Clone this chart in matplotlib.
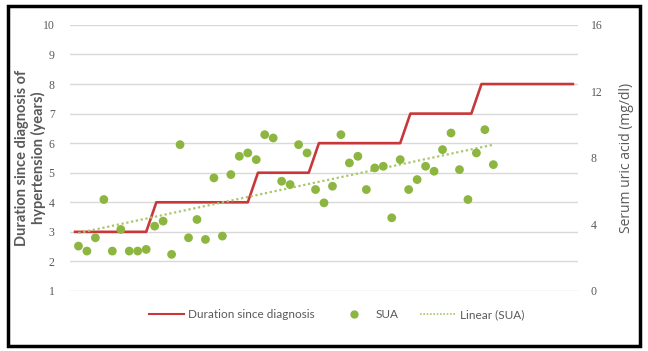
import numpy as np
import matplotlib
matplotlib.use("Agg")
import matplotlib.pyplot as plt
from matplotlib.patches import Rectangle
from matplotlib.lines import Line2D

# duration since diagnosis (years), one value per patient category
duration = [3] * 8 + [4] * 10 + [5] * 6 + [6] * 9 + [7] * 7 + [8] * 10

# serum uric acid (mg/dl), patients 1..50
sua = [2.7, 2.4, 3.2, 5.5, 2.4, 3.7, 2.4, 2.4, 2.5, 3.9,
       4.2, 2.2, 8.8, 3.2, 4.3, 3.1, 6.8, 3.3, 7.0, 8.1,
       8.3, 7.9, 9.4, 9.2, 6.6, 6.4, 8.8, 8.3, 6.1, 5.3,
       6.3, 9.4, 7.7, 8.1, 6.1, 7.4, 7.5, 4.4, 7.9, 6.1,
       6.7, 7.5, 7.2, 8.5, 9.5, 7.3, 5.5, 8.3, 9.7, 7.6]

left_ticks = list(range(1, 11))
right_ticks = [0, 4, 8, 12, 16]

RED = "#C8383B"
GREEN = "#8CB640"
TEXT = "#595959"


def main():
    fig = plt.figure(figsize=(6.48, 3.51), dpi=100)
    ax = fig.add_axes([0.108, 0.171, 0.784, 0.758])
    ax2 = ax.twinx()

    # line categories spread evenly over the same width as scatter x 0..60
    n = len(duration)
    x_line = (np.arange(n) + 0.5) * 60 / n
    ax.plot(x_line, duration, color=RED, lw=1.9, zorder=3)

    x_sua = np.arange(1, len(sua) + 1)
    ax2.scatter(x_sua, sua, s=40, color=GREEN, edgecolor="none", zorder=4)
    k, b = np.polyfit(x_sua, sua, 1)
    xt = np.array([x_sua[0], x_sua[-1]])
    ax2.plot(xt, k * xt + b, color="#A9C66A", lw=1.6, ls=(0, (1, 1.2)), zorder=3)

    ax.set_xlim(0, 60)
    ax.set_ylim(1, 10)
    ax2.set_ylim(0, 16)
    ax.set_yticks(left_ticks)
    ax2.set_yticks(right_ticks)
    ax.set_xticks([])
    ax.grid(axis="y", color="#D9D9D9", lw=1)
    ax.set_axisbelow(True)
    for a in (ax, ax2):
        for s in a.spines.values():
            s.set_visible(False)
        a.tick_params(length=0, labelsize=8.5, labelcolor=TEXT)
        for t in a.get_yticklabels():
            t.set_fontfamily("Liberation Serif")
    ax.tick_params(pad=11)
    ax2.tick_params(pad=9)

    ax.set_ylabel("Duration since diagnosis of\nhypertension (years)",
                  fontsize=10.5, fontweight="bold", color=TEXT,
                  family="Lato", linespacing=1.15)
    ax.yaxis.set_label_coords(-0.047, 0.5)
    ax2.set_ylabel("Serum uric acid (mg/dl)", fontsize=10, color=TEXT,
                   family="Open Sans", labelpad=12)

    handles = [Line2D([], [], color=RED, lw=1.5),
               Line2D([], [], color=GREEN, marker="o", ls="none", ms=5),
               Line2D([], [], color="#A9C66A", lw=1.2, ls=(0, (1, 1)))]
    labels = ["Duration since diagnosis", "SUA", "Linear (SUA)"]
    fig.legend(handles, labels, loc="center", bbox_to_anchor=(0.519, 0.103),
               ncol=3, frameon=False, labelcolor=TEXT,
               handlelength=3.0, handletextpad=0.35, columnspacing=1.8,
               prop={"family": "Lato", "size": 8.5})

    fig.patches.append(Rectangle((0.012, 0.015), 0.976, 0.968,
                                 transform=fig.transFigure, fill=False,
                                 edgecolor="black", lw=2.5))
    fig.savefig("out.png", dpi=100)


if __name__ == '__main__':
    main()
